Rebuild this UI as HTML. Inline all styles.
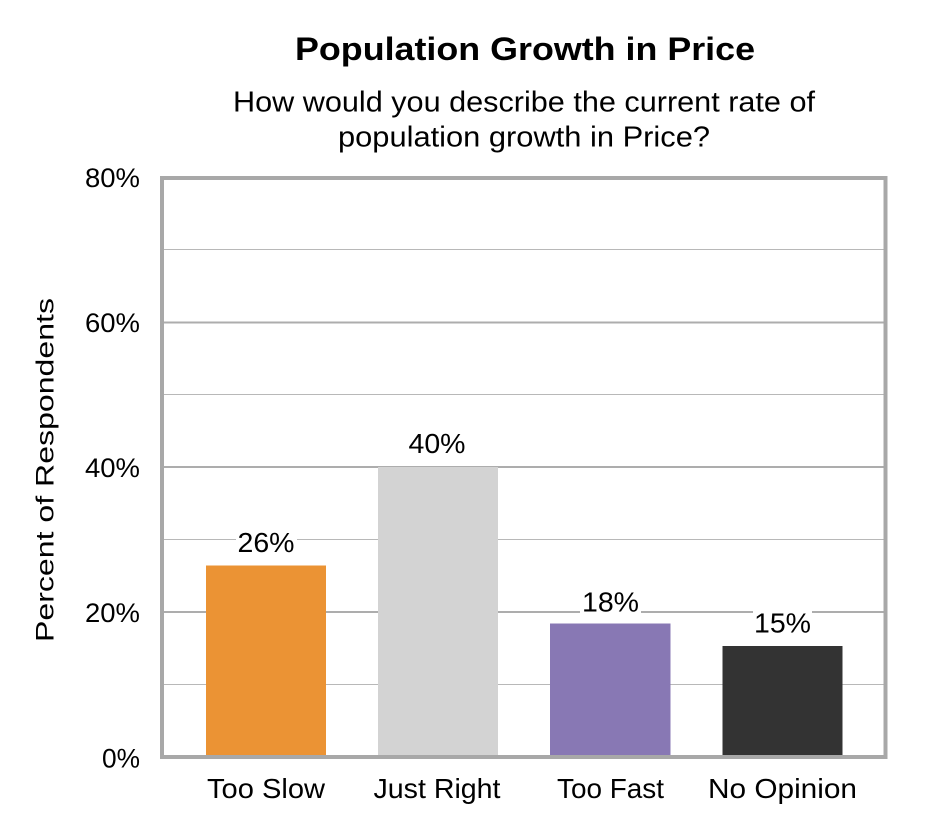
<!DOCTYPE html>
<html><head><meta charset="utf-8"><style>
html,body{margin:0;padding:0;background:#fff;}
svg{display:block;}
text{font-family:"Liberation Sans",Arial,sans-serif;fill:#000;}
</style></head><body>
<svg width="945" height="840" viewBox="0 0 945 840" xmlns="http://www.w3.org/2000/svg">
<rect width="945" height="840" fill="#fff"/>
<!-- titles -->
<text x="525" y="60" font-size="32" font-weight="bold" text-anchor="middle" textLength="460" lengthAdjust="spacingAndGlyphs">Population Growth in Price</text>
<text x="524" y="111.5" font-size="28.5" text-anchor="middle" textLength="582" lengthAdjust="spacingAndGlyphs">How would you describe the current rate of</text>
<text x="524" y="146.5" font-size="28.5" text-anchor="middle" textLength="372" lengthAdjust="spacingAndGlyphs">population growth in Price?</text>
<!-- y axis title -->
<text transform="translate(53.5,470) rotate(-90)" x="0" y="0" font-size="25" text-anchor="middle" textLength="344" lengthAdjust="spacingAndGlyphs">Percent of Respondents</text>
<!-- minor gridlines -->
<g stroke="#b8b8b8" stroke-width="1">
<line x1="162" x2="886" y1="249.5" y2="249.5"/>
<line x1="162" x2="886" y1="394.5" y2="394.5"/>
<line x1="162" x2="886" y1="539.5" y2="539.5"/>
<line x1="162" x2="886" y1="684.5" y2="684.5"/>
</g>
<!-- major gridlines -->
<g stroke="#adadad" stroke-width="2">
<line x1="162" x2="886" y1="322.5" y2="322.5"/>
<line x1="162" x2="886" y1="467" y2="467"/>
<line x1="162" x2="886" y1="612" y2="612"/>
</g>
<!-- bars -->
<rect x="206" y="565.5" width="120" height="191.5" fill="#EB9334"/>
<rect x="378" y="467" width="120" height="290" fill="#D3D3D3"/>
<rect x="550" y="623.5" width="120.5" height="133.5" fill="#8878B4"/>
<rect x="722.5" y="646" width="120" height="111" fill="#333333"/>
<!-- label backgrounds -->
<rect x="236" y="530" width="61" height="29" fill="#fff"/>
<rect x="408" y="432" width="61" height="29" fill="#fff"/>
<rect x="580" y="590" width="61" height="29" fill="#fff"/>
<rect x="753" y="611" width="59" height="29" fill="#fff"/>
<!-- data labels -->
<g font-size="28" text-anchor="middle">
<text x="266" y="552" textLength="57" lengthAdjust="spacingAndGlyphs">26%</text>
<text x="437" y="453" textLength="57" lengthAdjust="spacingAndGlyphs">40%</text>
<text x="610.5" y="611.5" textLength="57" lengthAdjust="spacingAndGlyphs">18%</text>
<text x="782.5" y="632.5" textLength="57" lengthAdjust="spacingAndGlyphs">15%</text>
</g>
<!-- frame -->
<rect x="162" y="178" width="723.5" height="579" fill="none" stroke="#a8a8a8" stroke-width="4"/>
<!-- y tick labels -->
<g font-size="27" text-anchor="end">
<text x="140" y="187" textLength="55" lengthAdjust="spacingAndGlyphs">80%</text>
<text x="140" y="332" textLength="55" lengthAdjust="spacingAndGlyphs">60%</text>
<text x="140" y="477" textLength="55" lengthAdjust="spacingAndGlyphs">40%</text>
<text x="140" y="622" textLength="55" lengthAdjust="spacingAndGlyphs">20%</text>
<text x="140" y="767.5" textLength="38" lengthAdjust="spacingAndGlyphs">0%</text>
</g>
<!-- x labels -->
<g font-size="28" text-anchor="middle">
<text x="266" y="798" textLength="118" lengthAdjust="spacingAndGlyphs">Too Slow</text>
<text x="437" y="798" textLength="127" lengthAdjust="spacingAndGlyphs">Just Right</text>
<text x="610.5" y="798" textLength="107" lengthAdjust="spacingAndGlyphs">Too Fast</text>
<text x="782.5" y="798" textLength="149" lengthAdjust="spacingAndGlyphs">No Opinion</text>
</g>
</svg>
</body></html>
